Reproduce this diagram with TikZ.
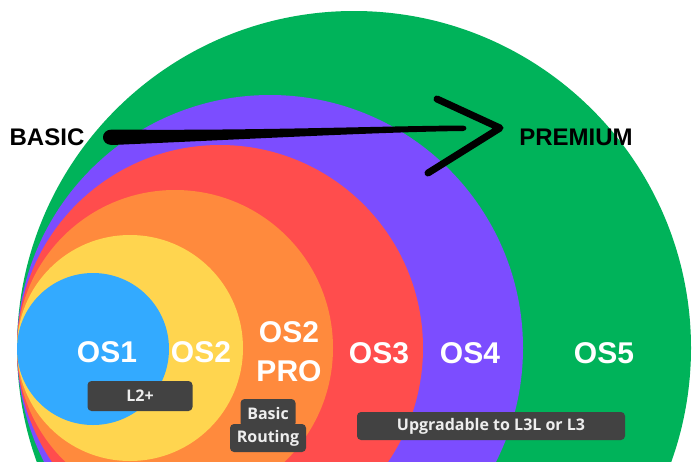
\documentclass[tikz,border=0pt]{standalone}
\usepackage{fontspec}
\setmainfont{Liberation Sans}
\newfontfamily\tagfont{Open Sans}
\definecolor{cgreen}{HTML}{00B35A}
\definecolor{cpurple}{HTML}{7C4DFF}
\definecolor{cred}{HTML}{FF4D4D}
\definecolor{corange}{HTML}{FF8A3D}
\definecolor{cyellow}{HTML}{FFD54F}
\definecolor{cblue}{HTML}{33AAFF}
\definecolor{ctag}{HTML}{424242}
\definecolor{ctagtext}{HTML}{EEEEEE}
\tikzset{
  oslabel/.style={text=white, font=\fontsize{30}{37}\selectfont\bfseries, align=center, inner sep=0pt},
  endlabel/.style={text=black, font=\fontsize{24}{28}\selectfont\bfseries, inner sep=0pt},
  tagbox/.style={fill=ctag, rounded corners=4pt, text=ctagtext, font=\tagfont\fontsize{16}{19}\selectfont\bfseries, inner sep=0pt, align=center},
  disc/.style={fill=#1, draw=none}
}
\begin{document}
\begin{tikzpicture}[x=1pt,y=-1pt]
\useasboundingbox (0,0) rectangle (693,461);
\begin{scope}
\clip (0,0) rectangle (693,461);
\fill[white] (0,0) rectangle (693,461);
% nested circles tangent at left
\path[disc=cgreen]  (354,348) circle[radius=337pt];
\path[disc=cpurple] (270,348) circle[radius=253pt];
\path[disc=cred]    (220,348) circle[radius=203pt];
\path[disc=corange] (175,348) circle[radius=158pt];
\path[disc=cyellow] (130,348) circle[radius=113pt];
\path[disc=cblue]   (93,349)  circle[radius=76pt];

% labels
\node[oslabel] (os1) at (107,352) {OS1};
\node[oslabel] (os2) at (201,352) {OS2};
\node[oslabel] (os2pro) at (289,352) {OS2\\[2pt]PRO};
\node[oslabel] (os3) at (379,353) {OS3};
\node[oslabel] (os4) at (470,353) {OS4};
\node[oslabel] (os5) at (604,353) {OS5};

% tags
\node[tagbox, minimum width=105pt, minimum height=30pt] (l2) at (140,396) {L2+};
\node[tagbox, minimum width=76pt, minimum height=28pt] (br2) at (268,438) {Routing};
\node[tagbox, minimum width=55pt, minimum height=28pt] (br1) at (268,413) {Basic};
\node[tagbox, minimum width=268pt, minimum height=28pt] (up) at (491,426) {Upgradable to L3L or L3};

% basic -> premium
\node[endlabel] (basic) at (47,137) {BASIC};
\node[endlabel] (premium) at (576,137) {PREMIUM};
\coordinate (as) at (112,137);
\coordinate (ae) at (463,128);
\coordinate (tip) at (500,128);
\fill[black] (112,129.5) .. controls (250,131) and (380,126) .. (463,125.5)
  .. controls (467.5,125.5) and (467.5,131) .. (463,131)
  .. controls (380,132) and (250,139) .. (112,145)
  .. controls (100,145) and (100,129.5) .. (112,129.5) -- cycle;
\draw[black, line width=7pt, line cap=round, line join=round] (437,99) -- (tip) -- (428,173);
\end{scope}
\end{tikzpicture}
\end{document}
